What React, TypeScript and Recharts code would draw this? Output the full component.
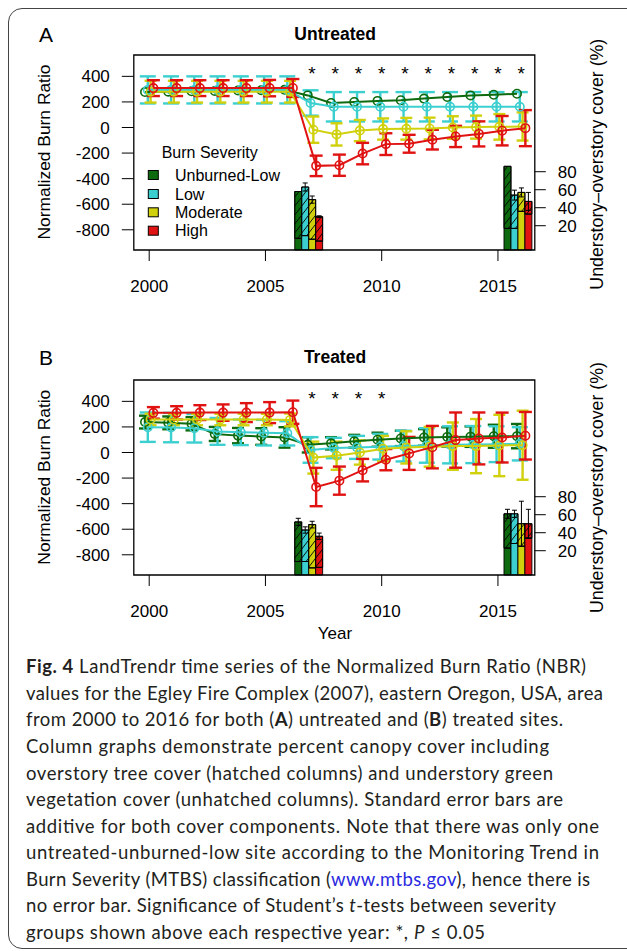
import React from 'react';
import { ComposedChart, XAxis, YAxis, Scatter, ErrorBar, ReferenceArea } from 'recharts';

const FONT = '"Liberation Sans", Arial, Helvetica, sans-serif';
const CAPTION_FONT = 'Lato, "Open Sans", sans-serif';

// ---------- data ----------
const years = [2000, 2001, 2002, 2003, 2004, 2005, 2006, 2007, 2008, 2009, 2010, 2011, 2012, 2013, 2014, 2015, 2016];
const severities = ['Unburned-Low', 'Low', 'Moderate', 'High'];
const severityColors = ['#0e6a0e', '#3ccfd0', '#d0d00c', '#e01212'];

// Untreated NBR means and standard errors
const untreatedUnburnedLow = [277, 280, 283, 286, 289, 292, 295, 251, 192, 200, 208, 213, 226, 238, 251, 256, 264];
const untreatedLow = [294, 294, 294, 294, 294, 294, 294, 192, 162, 162, 162, 162, 162, 162, 162, 162, 162];
const untreatedLowErr = [106, 106, 106, 106, 106, 106, 106, 99, 115, 115, 115, 115, 115, 115, 115, 115, 115];
const untreatedModerate = [280, 280, 280, 280, 280, 280, 280, -17, -54, -24, -12, -10, -8, 0, 3, 5, 8];
const untreatedModerateErr = [85, 85, 85, 85, 85, 85, 85, 103, 87, 83, 83, 85, 85, 88, 90, 100, 110];
const untreatedHigh = [308, 308, 308, 308, 308, 308, 309, -300, -295, -204, -130, -127, -95, -70, -50, -25, -5];
const untreatedHighErr = [62, 62, 62, 62, 62, 64, 70, 80, 83, 84, 85, 70, 77, 83, 98, 115, 141];

// Treated NBR means and standard errors
const treatedUnburnedLow = [238, 232, 225, 145, 132, 125, 118, 60, 72, 88, 100, 110, 118, 122, 124, 127, 128];
const treatedUnburnedLowErr = [50, 50, 52, 55, 60, 65, 80, 60, 48, 50, 55, 60, 65, 75, 80, 90, 95];
const treatedLow = [198, 195, 190, 165, 158, 155, 150, 20, 35, 40, 45, 50, 55, 60, 62, 65, 68];
const treatedLowErr = [115, 115, 112, 105, 100, 100, 95, 100, 80, 90, 100, 120, 135, 145, 145, 140, 130];
const treatedModerate = [258, 258, 258, 258, 258, 258, 255, -40, -25, 0, 30, 40, 45, 50, 50, 55, 57];
const treatedModerateErr = [45, 45, 45, 45, 45, 45, 50, 125, 110, 95, 100, 126, 156, 185, 212, 240, 270];
const treatedHigh = [310, 310, 312, 312, 312, 312, 315, -270, -220, -138, -56, -7, 42, 97, 110, 117, 131];
const treatedHighErr = [45, 52, 58, 64, 74, 82, 91, 150, 110, 88, 83, 129, 166, 216, 203, 195, 186];

// Significance stars
const untreatedStarYears = [2007, 2008, 2009, 2010, 2011, 2012, 2013, 2014, 2015, 2016];
const treatedStarYears = [2007, 2008, 2009, 2010];
const starLevel = 450;

// Cover columns (right axis): understory top, total (understory + overstory), standard error
const coverYears = [2007, 2016];
const untreatedUnderstory2007 = [6, 9, 5, 3];
const untreatedTotal2007 = [58, 63, 49, 30];
const untreatedErr2007 = [0, 4.5, 4, 1];
const untreatedUnderstory2016 = [17, 17, 36, 33];
const untreatedTotal2016 = [86, 54, 57, 47];
const untreatedErr2016 = [0, 5.5, 5, 10];
const treatedUnderstory2007 = [8, 8, 1, 1.5];
const treatedTotal2007 = [52, 43, 49, 36];
const treatedErr2007 = [4, 3.5, 3.7, 3.6];
const treatedUnderstory2016 = [23, 28, 25, 34];
const treatedTotal2016 = [61, 61, 50, 50];
const treatedErr2016 = [5, 4, 25, 16];

// Axis ticks
const xTicks = [2000, 2005, 2010, 2015];
const nbrTicks = [-800, -600, -400, -200, 0, 200, 400];
const coverTicks = [20, 40, 60, 80];

// ---------- layout constants ----------
const X_DOMAIN: [number, number] = [1999.338, 2016.585];
const Y_DOMAIN: [number, number] = [-958, 567];
const COVER_DOMAIN: [number, number] = [-7, 209.7];
const DODGE = [-0.18, -0.06, 0.06, 0.18];
const CAP_HALF = [6, 8, 6, 6.5];
const BAR_OFFSETS = [-0.59, -0.29, 0.01, 0.31];
const BAR_HALF = 0.15;

type Series = { values: number[]; errors: number[] | null };
type CoverGroup = { year: number; under: number[]; total: number[]; err: number[] };

const untreatedSeries: Series[] = [
  { values: untreatedUnburnedLow, errors: null },
  { values: untreatedLow, errors: untreatedLowErr },
  { values: untreatedModerate, errors: untreatedModerateErr },
  { values: untreatedHigh, errors: untreatedHighErr },
];
const treatedSeries: Series[] = [
  { values: treatedUnburnedLow, errors: treatedUnburnedLowErr },
  { values: treatedLow, errors: treatedLowErr },
  { values: treatedModerate, errors: treatedModerateErr },
  { values: treatedHigh, errors: treatedHighErr },
];
const untreatedCover: CoverGroup[] = [
  { year: coverYears[0], under: untreatedUnderstory2007, total: untreatedTotal2007, err: untreatedErr2007 },
  { year: coverYears[1], under: untreatedUnderstory2016, total: untreatedTotal2016, err: untreatedErr2016 },
];
const treatedCover: CoverGroup[] = [
  { year: coverYears[0], under: treatedUnderstory2007, total: treatedTotal2007, err: treatedErr2007 },
  { year: coverYears[1], under: treatedUnderstory2016, total: treatedTotal2016, err: treatedErr2016 },
];

const tickStyle = { fontSize: 17, fill: '#000', fontFamily: FONT };

function Panel({ series, cover, stars }: { series: Series[]; cover: CoverGroup[]; stars: number[] }) {
  const barErrData = cover
    .flatMap((g) => severities.map((_, si) => ({ x: g.year + BAR_OFFSETS[si], y: g.total[si], e: g.err[si] })))
    .filter((d) => d.e > 0);
  const starData = stars.map((yr) => ({ x: yr, y: starLevel }));
  return (
    <ComposedChart width={627} height={300} margin={{ top: 55, right: 0, bottom: 0, left: 0 }}>
      <XAxis
        type="number"
        dataKey="x"
        domain={X_DOMAIN}
        ticks={xTicks}
        interval={0}
        allowDataOverflow
        axisLine={false}
        tickLine={{ stroke: '#000', strokeWidth: 1 }}
        tickSize={11}
        tickMargin={19}
        height={50}
        tick={tickStyle}
      />
      <YAxis
        yAxisId="left"
        type="number"
        dataKey="y"
        domain={Y_DOMAIN}
        ticks={nbrTicks}
        interval={0}
        allowDataOverflow
        width={133.8}
        axisLine={false}
        tickLine={{ stroke: '#000', strokeWidth: 1 }}
        tickSize={12}
        tickMargin={12}
        tick={tickStyle}
      />
      <YAxis
        yAxisId="right"
        orientation="right"
        type="number"
        dataKey="y"
        domain={COVER_DOMAIN}
        ticks={coverTicks}
        interval={0}
        allowDataOverflow
        width={92.2}
        axisLine={false}
        tickLine={{ stroke: '#000', strokeWidth: 1 }}
        tickSize={11}
        tickMargin={12}
        tick={tickStyle}
      />
      {cover.flatMap((g, gi) =>
        severities.flatMap((_, si) => {
          const c = g.year + BAR_OFFSETS[si];
          return [
            <ReferenceArea
              key={`u${gi}-${si}`}
              yAxisId="right"
              x1={c - BAR_HALF}
              x2={c + BAR_HALF}
              y1={COVER_DOMAIN[0]}
              y2={g.under[si]}
              fill={severityColors[si]}
              fillOpacity={1}
              stroke="#000"
              strokeWidth={0.9}
              ifOverflow="visible"
            />,
            <ReferenceArea
              key={`o${gi}-${si}`}
              yAxisId="right"
              x1={c - BAR_HALF}
              x2={c + BAR_HALF}
              y1={g.under[si]}
              y2={g.total[si]}
              fill={severityColors[si]}
              fillOpacity={1}
              stroke="#000"
              strokeWidth={0.9}
              ifOverflow="visible"
            />,
            <ReferenceArea
              key={`h${gi}-${si}`}
              yAxisId="right"
              x1={c - BAR_HALF}
              x2={c + BAR_HALF}
              y1={g.under[si]}
              y2={g.total[si]}
              fill="url(#hatch)"
              fillOpacity={1}
              stroke="#000"
              strokeWidth={0.9}
              ifOverflow="visible"
            />,
          ];
        })
      )}
      <Scatter
        yAxisId="right"
        data={barErrData}
        shape={() => <g />}
        isAnimationActive={false}
      >
        <ErrorBar dataKey="e" direction="y" width={2.5} stroke="#000" strokeWidth={1} />
      </Scatter>
      {series.map((s, si) => (
        <Scatter
          key={`s${si}`}
          yAxisId="left"
          data={years.map((yr, i) => ({ x: yr + DODGE[si], y: s.values[i], e: s.errors ? s.errors[i] : 0 }))}
          line={{ stroke: severityColors[si], strokeWidth: 2 }}
          shape={(p: any) => (
            <circle cx={p.cx} cy={p.cy} r={4.2} fill="none" stroke={severityColors[si]} strokeWidth={1.6} />
          )}
          isAnimationActive={false}
        >
          {s.errors ? (
            <ErrorBar dataKey="e" direction="y" width={CAP_HALF[si]} stroke={severityColors[si]} strokeWidth={2.4} />
          ) : null}
        </Scatter>
      ))}
      <Scatter
        yAxisId="left"
        data={starData}
        shape={(p: any) => (
          <text x={p.cx} y={p.cy + 10} textAnchor="middle" fontSize={19} fontFamily={FONT} fill="#000">
            *
          </text>
        )}
        isAnimationActive={false}
      />
      <ReferenceArea
        yAxisId="left"
        x1={X_DOMAIN[0]}
        x2={X_DOMAIN[1]}
        y1={Y_DOMAIN[0]}
        y2={Y_DOMAIN[1]}
        fill="none"
        stroke="#000"
        strokeWidth={1.3}
        ifOverflow="visible"
      />
    </ComposedChart>
  );
}

type Run = { t: string; b?: boolean; i?: boolean; link?: boolean };
const captionLines: Run[][] = [
  [{ t: 'Fig. 4', b: true }, { t: ' LandTrendr time series of the Normalized Burn Ratio (NBR)' }],
  [{ t: 'values for the Egley Fire Complex (2007), eastern Oregon, USA, area' }],
  [{ t: 'from 2000 to 2016 for both (' }, { t: 'A', b: true }, { t: ') untreated and (' }, { t: 'B', b: true }, { t: ') treated sites.' }],
  [{ t: 'Column graphs demonstrate percent canopy cover including' }],
  [{ t: 'overstory tree cover (hatched columns) and understory green' }],
  [{ t: 'vegetation cover (unhatched columns). Standard error bars are' }],
  [{ t: 'additive for both cover components. Note that there was only one' }],
  [{ t: 'untreated-unburned-low site according to the Monitoring Trend in' }],
  [{ t: 'Burn Severity (MTBS) classification (' }, { t: 'www.mtbs.gov', link: true }, { t: '), hence there is' }],
  [{ t: 'no error bar. Significance of Student\u2019s ' }, { t: 't', i: true }, { t: '-tests between severity' }],
  [{ t: 'groups shown above each respective year: *, ' }, { t: 'P', i: true }, { t: ' \u2264 0.05' }],
];
const captionWidths = [560, 577, 537, 523, 527, 537, 573, 573, 564, 530, 459];

function Overlay() {
  const legendCenters = [175, 194, 212.3, 230.7];
  return (
    <svg width={627} height={951} style={{ position: 'absolute', left: 0, top: 0, pointerEvents: 'none' }}>
      <g fontFamily={FONT} fill="#000">
        <text x={46} y={41.5} fontSize={21} textAnchor="middle">A</text>
        <text x={335.2} y={39.6} fontSize={17.5} fontWeight="bold" textAnchor="middle">Untreated</text>
        <text transform="translate(49.5,152) rotate(-90)" fontSize={17.4} textAnchor="middle">Normalized Burn Ratio</text>
        <text transform="translate(603,164.2) rotate(-90)" fontSize={17.8} textAnchor="middle">Understory–overstory cover (%)</text>

        <text x={46} y={365} fontSize={21} textAnchor="middle">B</text>
        <text x={335} y={363} fontSize={17.5} fontWeight="bold" textAnchor="middle">Treated</text>
        <text transform="translate(49.5,477.2) rotate(-90)" fontSize={17.4} textAnchor="middle">Normalized Burn Ratio</text>
        <text transform="translate(603,487.5) rotate(-90)" fontSize={17.8} textAnchor="middle">Understory–overstory cover (%)</text>
        <text x={335} y={639.4} fontSize={17} textAnchor="middle">Year</text>

        <text x={161.7} y={157.5} fontSize={16}>Burn Severity</text>
        {severities.map((name, si) => (
          <g key={name}>
            <rect x={148.3} y={legendCenters[si] - 4.5} width={10} height={9} fill={severityColors[si]} stroke="#000" strokeWidth={1} />
            <text x={175} y={legendCenters[si] + 5.7} fontSize={16}>{name}</text>
          </g>
        ))}
      </g>
      <g fontFamily={CAPTION_FONT} fontSize={18.5} fill="#231f20">
        {captionLines.map((runs, li) => (
          <text
            key={li}
            x={26}
            y={673.3 + li * 26.57}
            textLength={captionWidths[li]}
            lengthAdjust="spacing"
            style={{ whiteSpace: 'pre' }}
          >
            {runs.map((r, ri) => (
              <tspan
                key={ri}
                fontWeight={r.b ? 'bold' : 'normal'}
                fontStyle={r.i ? 'italic' : 'normal'}
                fill={r.link ? '#2a2ae0' : undefined}
              >
                {r.t}
              </tspan>
            ))}
          </text>
        ))}
      </g>
    </svg>
  );
}

export default function App() {
  return (
    <div style={{ position: 'relative', width: 627, height: 951, overflow: 'hidden', background: '#fff', fontFamily: FONT }}>
      <style>{'html,body{margin:0;padding:0;overflow:hidden;background:#fff}'}</style>
      <svg width={0} height={0} style={{ position: 'absolute' }}>
        <defs>
          <pattern id="hatch" patternUnits="userSpaceOnUse" width={7} height={9}>
            <path d="M0,9 L7,0 M-7,9 L0,0 M7,9 L14,0" stroke="#000" strokeWidth={0.9} />
          </pattern>
        </defs>
      </svg>
      <div
        style={{
          position: 'absolute',
          left: 8,
          top: 8,
          width: 700,
          height: 941,
          border: '1.5px solid #444',
          borderRadius: 14,
          boxSizing: 'border-box',
        }}
      />
      <div style={{ position: 'absolute', left: 0, top: 0 }}>
        <Panel series={untreatedSeries} cover={untreatedCover} stars={untreatedStarYears} />
      </div>
      <div style={{ position: 'absolute', left: 0, top: 324.5 }}>
        <Panel series={treatedSeries} cover={treatedCover} stars={treatedStarYears} />
      </div>
      <Overlay />
    </div>
  );
}
